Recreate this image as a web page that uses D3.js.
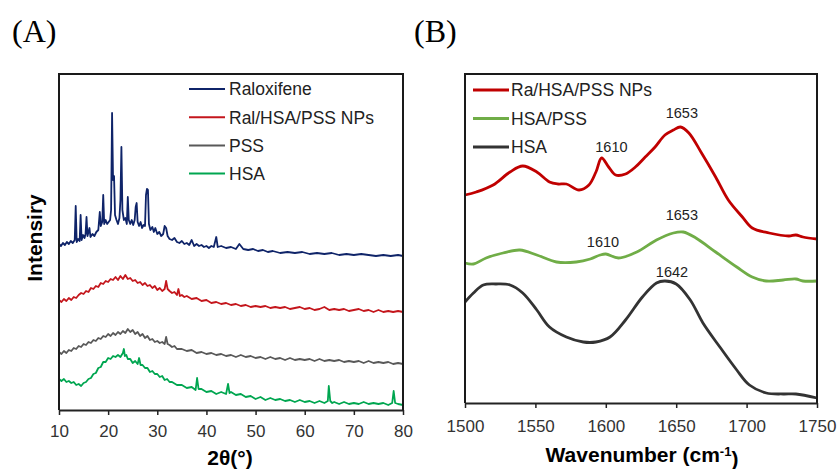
<!DOCTYPE html>
<html>
<head>
<meta charset="utf-8">
<script src="https://cdn.jsdelivr.net/npm/d3@7"></script>
<style>
  body { margin: 0; background: #fff; }
  text { font-family: "Liberation Sans", Arial, sans-serif; }
</style>
</head>
<body>
<div id="chart"></div>
<script>
// ---- panel A: XRD patterns (2theta, intensity a.u., already offset) ----
var xrdTicks = [10, 20, 30, 40, 50, 60, 70, 80];
var raloxifene = [[10,166],[10.4,164],[10.8,167],[11.2,165],[11.6,168],[12,166],[12.4,169],[12.8,167],[13.2,170],[13.4,204],[13.6,168],[13.9,171],[14.2,169],[14.4,195],[14.6,170],[14.9,175],[15.2,172],[15.4,176],[15.6,193],[15.8,174],[16.0,178],[16.2,182],[16.4,173],[16.8,176],[17.2,174],[17.6,178],[18.0,180],[18.3,198],[18.5,184],[18.8,188],[19.0,215],[19.2,186],[19.5,190],[19.8,186],[20.1,188],[20.4,190],[20.6,200],[20.8,297],[21.0,230],[21.2,234],[21.4,195],[21.7,190],[22.0,186],[22.3,192],[22.5,210],[22.7,263],[22.9,200],[23.2,190],[23.5,192],[23.8,186],[24.0,213],[24.2,190],[24.5,186],[24.8,190],[25.1,185],[25.4,190],[25.6,203],[25.8,207],[26.0,188],[26.3,184],[26.6,188],[26.9,182],[27.2,185],[27.5,184],[27.7,215],[27.9,221],[28.1,220],[28.3,186],[28.6,180],[29.0,183],[29.3,178],[29.6,182],[30.0,176],[30.4,178],[30.8,174],[31.2,176],[31.5,184],[31.8,182],[32.1,174],[32.5,171],[33,170],[33.5,172],[34,168],[34.5,167],[35,169],[35.5,166],[36,167],[36.5,165],[37,170],[37.5,164],[38,166],[38.5,164],[39,165],[39.5,163],[40,164],[40.5,162],[41,164],[41.5,163],[42,173],[42.3,163],[43,164],[44,162],[45,163],[46,161],[46.7,166],[47.5,161],[48.5,160],[49.5,161],[50.5,159],[51.5,160],[52.5,158],[53.5,159],[55,157],[56.5,158],[58,157],[59.5,158],[61,156],[62.5,157],[64,156],[65.5,157],[67,155],[68.5,156],[70,155],[71.5,156],[73,155],[74.5,154],[76,155],[77.5,154],[79,155],[80,154]];
var ralNPs = [[10,110],[10.5,108],[11,111],[11.5,109],[12,112],[12.5,110],[13,113],[13.5,112],[14,115],[14.5,117],[15,116],[15.5,119],[16,118],[16.5,122],[17,121],[17.5,124],[18,123],[18.5,127],[19,126],[19.5,129],[20,128],[20.5,131],[21,130],[21.5,133],[22,130],[22.5,134],[23,131],[23.5,135],[24,131],[24.5,132],[25,129],[25.5,130],[26,127],[26.5,128],[27,125],[27.5,127],[28,124],[28.5,125],[29,122],[29.5,124],[30,120],[30.5,122],[31,119],[31.5,121],[31.8,129],[32.1,121],[32.5,119],[33,117],[33.5,118],[34,115],[34.3,121],[34.6,114],[35,115],[35.5,113],[36,114],[37,111],[38,112],[39,109],[40,110],[41,107],[42,108],[43,106],[44,107],[45,105],[46,106],[47,104],[48,105],[49,103],[50,104],[51,103],[52,104],[53,102],[54,103],[55,102],[56,103],[57,101],[58,102],[59,103],[60,101],[61,102],[62,100],[63,101],[64,103],[65,100],[66,101],[67,100],[68,101],[69,99],[70,100],[71,101],[72,99],[73,100],[74,98],[75,100],[76,98],[77,99],[78,98],[79,99],[80,98]];
var pss = [[10,58],[10.5,56],[11,59],[11.5,57],[12,60],[12.5,59],[13,62],[13.5,61],[14,64],[14.5,63],[15,66],[15.5,65],[16,68],[16.5,67],[17,70],[17.5,69],[18,72],[18.5,71],[19,74],[19.5,73],[20,76],[20.5,74],[21,77],[21.5,75],[22,78],[22.5,76],[23,79],[23.5,77],[24,81],[24.5,78],[25,80],[25.5,76],[26,78],[26.5,74],[27,76],[27.5,72],[28,74],[28.5,70],[29,71],[29.5,68],[30,69],[30.5,67],[31,68],[31.5,66],[31.8,73],[32.1,66],[32.5,65],[33,63],[33.5,64],[34,61],[35,61],[36,59],[37,60],[38,57],[39,58],[40,56],[41,57],[42,55],[43,56],[44,54],[45,55],[46,53],[47,55],[48,53],[49,54],[50,52],[51,53],[52,51],[53,53],[54,51],[55,52],[56,50],[57,52],[58,50],[59,51],[60,50],[61,51],[62,49],[63,51],[64,49],[65,50],[66,49],[67,50],[68,48],[69,49],[70,48],[71,49],[72,47],[73,49],[74,47],[75,48],[76,47],[77,48],[78,46],[79,47],[80,46]];
var hsaXrd = [[10,31],[10.5,29],[11,31],[11.5,28],[12,29],[12.5,27],[13,28],[13.5,25],[14,26],[14.5,24],[15,27],[15.5,28],[16,31],[16.5,32],[17,36],[17.5,37],[18,42],[18.5,43],[19,48],[19.5,48],[20,52],[20.5,51],[21,54],[21.5,53],[22,55],[22.5,53],[23,57],[23.2,61],[23.4,54],[23.7,55],[24,51],[24.5,51],[25,47],[25.5,49],[26,46],[26.3,52],[26.6,45],[27,45],[27.5,42],[28,42],[28.5,38],[29,39],[29.5,36],[30,36],[30.5,33],[31,34],[31.5,30],[32,31],[32.5,28],[33,28],[34,25],[35,25],[36,22],[37,23],[37.8,20],[38.1,32],[38.4,21],[39,21],[40,18],[41,19],[42,16],[43,18],[44,16],[44.4,26],[44.7,17],[45,18],[46,15],[47,16],[48,13],[49,14],[50,11],[51,13],[52,10],[53,12],[54,10],[55,11],[56,9],[57,10],[58,8],[59,10],[60,8],[61,9],[62,7],[63,9],[64,7],[64.7,9],[64.9,24],[65.2,9],[65.6,7],[66,8],[67,6],[68,8],[69,6],[70,7],[71,6],[72,8],[73,6],[74,7],[75,6],[76,7],[77,5],[77.8,7],[78.1,19],[78.4,7],[79,6],[80,5]];
var xrdNames = ["Raloxifene", "Ral/HSA/PSS NPs", "PSS", "HSA"];
var xrdColors = ["#0f2469", "#c4161c", "#595959", "#00a650"];

// ---- panel B: FTIR amide region (wavenumber, absorbance a.u., offset) ----
var ftirTicks = [1500, 1550, 1600, 1650, 1700, 1750];
var ftirNPs = [[1500,208],[1508,211],[1520,218],[1532,231],[1541,237],[1551,231],[1560,221],[1566,219],[1572,219],[1581,213],[1588,218],[1593,231],[1597,245],[1602,236],[1607,228],[1614,229],[1621,236],[1628,246],[1635,256],[1642,268],[1648,273],[1653,276],[1659,270],[1668,250],[1678,226],[1687,203],[1697,186],[1704,175],[1716,170],[1730,167],[1735,168],[1740,166],[1750,164]];
var ftirHsaPss = [[1500,140],[1506,139],[1515,145],[1527,150],[1539,153],[1551,148],[1565,141],[1579,141],[1589,144],[1596,148],[1600,149],[1609,145],[1622,151],[1636,163],[1648,170],[1655,171],[1664,165],[1678,151],[1693,136],[1704,126],[1714,122],[1726,123],[1735,124],[1740,122],[1750,122]];
var ftirHsa = [[1500,101],[1506,110],[1513,118],[1522,119],[1532,118],[1541,110],[1551,93],[1560,76],[1572,66],[1584,61],[1593,61],[1603,66],[1614,83],[1626,106],[1636,120],[1642,122],[1650,119],[1660,103],[1669,80],[1681,56],[1693,33],[1702,18],[1714,10],[1726,9],[1735,9],[1750,5]];
var ftirNames = ["Ra/HSA/PSS NPs", "HSA/PSS", "HSA"];
var ftirColors = ["#c00000", "#70ad47", "#333333"];
var ftirLabels = [
  {text: "1610", wn: 1604, y: 251, s: 0},
  {text: "1653", wn: 1654, y: 285, s: 0},
  {text: "1610", wn: 1598, y: 156, s: 1},
  {text: "1653", wn: 1654, y: 183, s: 1},
  {text: "1642", wn: 1647, y: 126, s: 2}
];

var width = 838, height = 469;
var svg = d3.select("#chart").append("svg")
    .attr("width", width)
    .attr("height", height);

// panel letters
svg.append("text").attr("x", 12).attr("y", 42)
    .style("font-family", "'Liberation Serif', 'Times New Roman', serif")
    .style("font-size", "32px").text("(A)");
svg.append("text").attr("x", 414).attr("y", 42)
    .style("font-family", "'Liberation Serif', 'Times New Roman', serif")
    .style("font-size", "32px").text("(B)");

// plot frame as thin filled bars (left, top, right)
function frame(g, xs, ys){
    var x0 = xs.range()[0], x1 = xs.range()[1];
    var yb = ys.range()[0], yt = ys.range()[1];
    var bars = [
        [x0 - 1, yt - 1, 2, yb - yt + 1],
        [x0 - 1, yt - 1, x1 - x0 + 2, 2],
        [x1 - 1, yt - 1, 2, yb - yt + 1]
    ];
    g.selectAll(null).data(bars).enter().append("rect")
        .attr("x", function(d){ return d[0]; })
        .attr("y", function(d){ return d[1]; })
        .attr("width", function(d){ return d[2]; })
        .attr("height", function(d){ return d[3]; })
        .attr("fill", "#1a1a1a");
}

function styleAxis(ax){
    ax.select(".domain").attr("stroke", "#222").attr("stroke-width", 2);
    ax.selectAll(".tick line").attr("stroke", "#222").attr("stroke-width", 1.5);
    ax.selectAll(".tick text").style("font-size", "17px")
        .style("font-family", "'Liberation Sans', Arial, sans-serif").attr("fill", "#333");
}

// ===== panel A =====
var xA = d3.scaleLinear().domain([10, 80]).range([59, 403]);
var yA = d3.scaleLinear().domain([0, 336]).range([410, 74]);
var lineA = d3.line().x(function(d){ return xA(d[0]); }).y(function(d){ return yA(d[1]); });

var gA = svg.append("g");

[raloxifene, ralNPs, pss, hsaXrd].forEach(function(s, i){
    gA.append("path").datum(s)
        .attr("fill", "none")
        .attr("stroke", xrdColors[i])
        .attr("stroke-width", 1.8)
        .attr("stroke-linejoin", "round")
        .attr("d", lineA);
});
frame(gA, xA, yA);

var axA = gA.append("g").attr("transform", "translate(0," + yA.range()[0] + ")")
    .call(d3.axisBottom(xA).tickValues(xrdTicks).tickFormat(d3.format("d"))
        .tickSize(5).tickSizeOuter(0).tickPadding(10));
styleAxis(axA);

gA.append("text").attr("x", 230).attr("y", 465)
    .attr("text-anchor", "middle").style("font-size", "21px").style("font-weight", "bold")
    .text("2θ(°)");
gA.append("text").attr("transform", "translate(42,238) rotate(-90)")
    .attr("text-anchor", "middle").style("font-size", "21px").style("font-weight", "bold")
    .text("Intensiry");

var legA = gA.selectAll(".legA").data(xrdNames).enter().append("g")
    .attr("transform", function(d, i){ return "translate(189," + (89 + i * 28.2) + ")"; });
legA.append("line").attr("x1", 0).attr("x2", 36)
    .attr("stroke", function(d, i){ return xrdColors[i]; }).attr("stroke-width", 2);
legA.append("text").attr("x", 40).attr("dy", "0.36em")
    .style("font-size", "17.5px").attr("fill", "#222").text(function(d){ return d; });

// ===== panel B =====
var xB = d3.scaleLinear().domain([1500, 1750]).range([465, 817]);
var yB = d3.scaleLinear().domain([0, 329]).range([403, 74]);
var lineB = d3.line().curve(d3.curveCatmullRom)
    .x(function(d){ return xB(d[0]); }).y(function(d){ return yB(d[1]); });

var gB = svg.append("g");

[ftirNPs, ftirHsaPss, ftirHsa].forEach(function(s, i){
    gB.append("path").datum(s)
        .attr("fill", "none")
        .attr("stroke", ftirColors[i])
        .attr("stroke-width", 2.8)
        .attr("d", lineB);
});
frame(gB, xB, yB);

var axB = gB.append("g").attr("transform", "translate(0," + yB.range()[0] + ")")
    .call(d3.axisBottom(xB).tickValues(ftirTicks).tickFormat(d3.format("d"))
        .tickSize(5).tickSizeOuter(0).tickPadding(12));
styleAxis(axB);

var tB = gB.append("text").attr("x", 642).attr("y", 462)
    .attr("text-anchor", "middle").style("font-size", "21px").style("font-weight", "bold");
tB.append("tspan").text("Wavenumber (cm");
tB.append("tspan").attr("dy", "-0.5em").style("font-size", "13px").text("-1");
tB.append("tspan").attr("dy", "0.5em").text(")");

gB.selectAll(".pk").data(ftirLabels).enter().append("text")
    .attr("x", function(d){ return xB(d.wn); })
    .attr("y", function(d){ return yB(d.y); })
    .attr("text-anchor", "middle").style("font-size", "14.5px").attr("fill", "#222")
    .text(function(d){ return d.text; });

var legB = gB.selectAll(".legB").data(ftirNames).enter().append("g")
    .attr("transform", function(d, i){ return "translate(473," + (90 + i * 28.5) + ")"; });
legB.append("line").attr("x1", 0).attr("x2", 36)
    .attr("stroke", function(d, i){ return ftirColors[i]; }).attr("stroke-width", 3);
legB.append("text").attr("x", 38).attr("dy", "0.36em")
    .style("font-size", "17.5px").attr("fill", "#222").text(function(d){ return d; });
</script>
</body>
</html>
